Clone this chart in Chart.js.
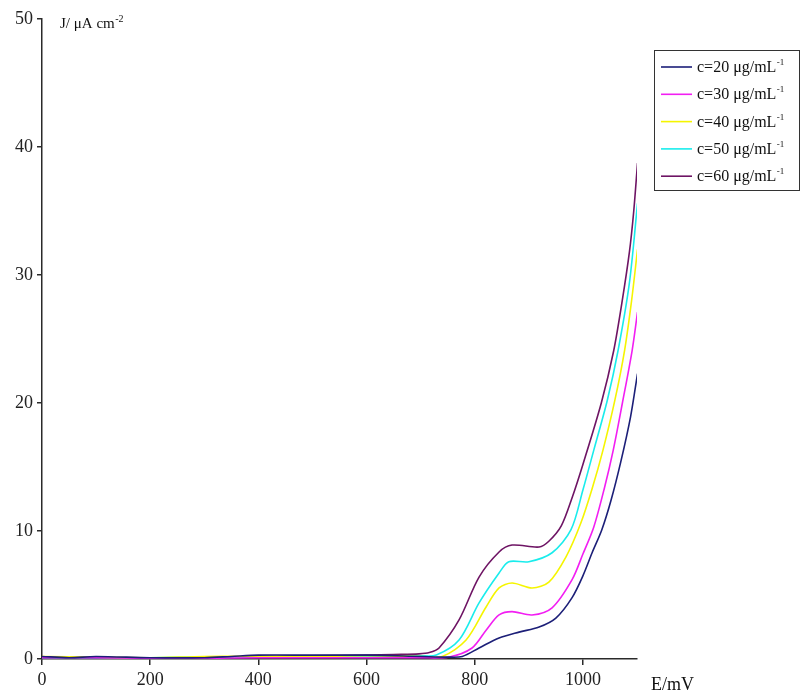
<!DOCTYPE html>
<html>
<head>
<meta charset="utf-8">
<script src="https://cdn.jsdelivr.net/npm/chart.js@4"></script>
<style>
html,body{margin:0;padding:0;background:#fff;}
canvas{display:block;}
</style>
</head>
<body>
<canvas id="c" width="801" height="693"></canvas>
<script>
// ---- data ----
const seriesLabels = ["c=20 μg/mL", "c=30 μg/mL", "c=40 μg/mL", "c=50 μg/mL", "c=60 μg/mL"];
const seriesColors = ["#1c1f78", "#f21ef2", "#f5f500", "#19ecec", "#6e1464"];

const E20 = [0, 50, 100, 200, 300, 350, 400, 500, 600, 700, 750, 777, 808, 845, 882, 919, 950, 980, 1000, 1017, 1035, 1052, 1070, 1088, 1101];
const J20 = [0.2, 0.1, 0.2, 0.1, 0.1, 0.2, 0.3, 0.3, 0.3, 0.2, 0.15, 0.2, 0.86, 1.64, 2.1, 2.5, 3.2, 4.8, 6.5, 8.3, 10.1, 12.4, 15.4, 18.9, 22.3];

const E30 = [0, 100, 200, 300, 400, 500, 600, 700, 753, 795, 821, 845, 869, 906, 943, 980, 1000, 1020, 1040, 1056, 1073, 1091, 1101];
const J30 = [0.1, 0.1, 0.05, 0.05, 0.1, 0.1, 0.1, 0.1, 0.16, 0.86, 2.25, 3.44, 3.7, 3.44, 4.0, 6.2, 8.2, 10.3, 13.4, 16.3, 20.0, 24.1, 27.1];

const E40 = [0, 100, 200, 300, 400, 500, 600, 700, 740, 784, 821, 845, 869, 906, 937, 969, 996, 1017, 1037, 1059, 1077, 1090, 1101];
const J40 = [0.2, 0.15, 0.1, 0.2, 0.2, 0.2, 0.25, 0.2, 0.2, 1.48, 4.06, 5.55, 5.94, 5.55, 6.0, 8.0, 10.6, 13.3, 16.3, 20.2, 24.1, 28.0, 32.0];

const E50 = [0, 100, 200, 300, 400, 500, 600, 700, 729, 771, 808, 845, 863, 900, 943, 978, 1000, 1020, 1045, 1065, 1086, 1101];
const J50 = [0.1, 0.1, 0.1, 0.15, 0.15, 0.2, 0.2, 0.25, 0.31, 1.48, 4.38, 6.72, 7.6, 7.6, 8.3, 10.1, 13.2, 16.3, 20.2, 24.1, 29.4, 35.6];

const E60 = [0, 100, 200, 300, 400, 500, 600, 650, 697, 716, 734, 771, 808, 845, 869, 919, 937, 960, 980, 1000, 1034, 1057, 1072, 1086, 1094, 1101];
const J60 = [0.15, 0.1, 0.1, 0.1, 0.2, 0.25, 0.3, 0.35, 0.4, 0.5, 0.86, 3.05, 6.4, 8.36, 8.9, 8.75, 9.2, 10.4, 12.6, 15.2, 20.0, 24.1, 27.8, 31.8, 35.0, 38.75];

const xTicks = [0, 200, 400, 600, 800, 1000];
const yTicks = [0, 10, 20, 30, 40, 50];

const Es = [E20, E30, E40, E50, E60];
const Js = [J20, J30, J40, J50, J60];

const datasets = seriesLabels.map((lab, i) => ({
  label: lab,
  data: Es[i].map((e, k) => ({x: e, y: Js[i][k]})),
  borderColor: seriesColors[i],
  backgroundColor: seriesColors[i],
  borderWidth: 1.6,
  pointRadius: 0,
  showLine: true,
  fill: false,
  tension: 0.3
}));

const serif = "'Liberation Serif', 'Times New Roman', serif";
const ink = '#2a2a2a';

const decor = {
  id: 'decor',
  afterDraw(chart) {
    const ctx = chart.ctx;
    ctx.save();
    ctx.fillStyle = '#111';
    ctx.textBaseline = 'alphabetic';
    ctx.textAlign = 'left';
    ctx.font = "15px " + serif;
    const t1 = "J/ μA cm";
    ctx.fillText(t1, 60, 28);
    const w1 = ctx.measureText(t1).width;
    ctx.font = "10px " + serif;
    ctx.fillText("-2", 60 + w1 + 0.5, 22);
    ctx.font = "18px " + serif;
    ctx.fillText("E/mV", 651, 690);
    const bx = 654.5, by = 50.5, bw = 145, bh = 140;
    ctx.strokeStyle = '#333';
    ctx.lineWidth = 1;
    ctx.strokeRect(bx, by, bw, bh);
    chart.data.datasets.forEach((ds, i) => {
      const cy = 66 + i * 27.3;
      ctx.strokeStyle = ds.borderColor;
      ctx.lineWidth = 1.6;
      ctx.beginPath();
      ctx.moveTo(661, cy + 1);
      ctx.lineTo(692, cy + 1);
      ctx.stroke();
      ctx.fillStyle = '#111';
      ctx.font = "16px " + serif;
      ctx.fillText(ds.label, 697, cy + 6);
      const w = ctx.measureText(ds.label).width;
      ctx.font = "9px " + serif;
      ctx.fillText("-1", 697 + w + 0.5, cy - 1);
    });
    ctx.restore();
  }
};

new Chart(document.getElementById('c'), {
  type: 'scatter',
  data: {datasets},
  options: {
    responsive: false,
    animation: false,
    devicePixelRatio: 1,
    layout: {padding: {top: 19, right: 164, left: 0, bottom: 0}},
    plugins: {legend: {display: false}, tooltip: {enabled: false}},
    scales: {
      x: {
        type: 'linear',
        min: 0, max: 1100,
        afterFit(s) { s.height = 34; },
        afterBuildTicks(s) { s.ticks = xTicks.map(v => ({value: v})); },
        border: {display: true, color: ink, width: 1.5},
        grid: {display: true, drawOnChartArea: false, drawTicks: true, tickLength: 6, color: ink, lineWidth: 1.5},
        ticks: {font: {family: serif, size: 18}, color: '#222', padding: 4, maxRotation: 0, autoSkip: false,
                callback: v => String(v)}
      },
      y: {
        type: 'linear',
        min: 0, max: 50,
        afterFit(s) { s.width = 42; },
        afterBuildTicks(s) { s.ticks = yTicks.map(v => ({value: v})); },
        border: {display: true, color: ink, width: 1.5},
        grid: {display: true, drawOnChartArea: false, drawTicks: true, tickLength: 5, color: ink, lineWidth: 1.5},
        ticks: {font: {family: serif, size: 18}, color: '#222', padding: 4, autoSkip: false,
                callback: v => String(v)}
      }
    }
  },
  plugins: [decor]
});
</script>
</body>
</html>
